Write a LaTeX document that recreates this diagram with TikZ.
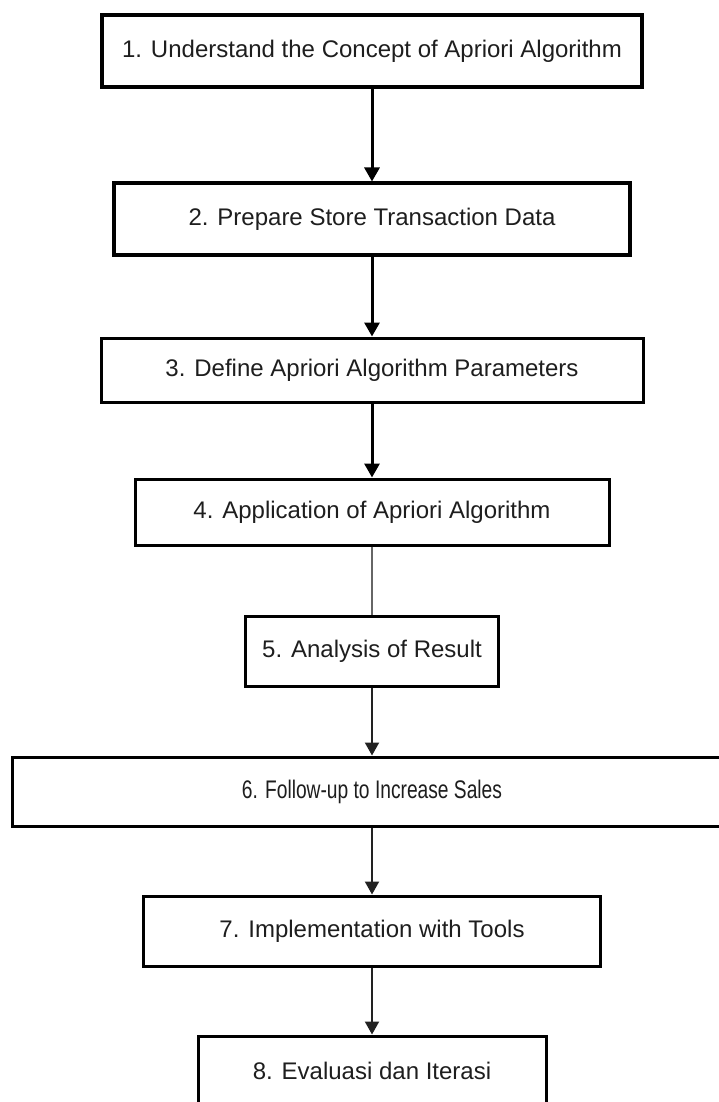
\documentclass[tikz,border=0pt]{standalone}
\usepackage{fontspec}
\usepackage{graphicx}
\setmainfont{Liberation Sans}
\usetikzlibrary{arrows.meta}
\definecolor{txtgray}{HTML}{1E1E1E}
\definecolor{linegray}{HTML}{666666}
\definecolor{darkline}{HTML}{222222}
\tikzset{
  stepbox/.style={draw, line width=3pt, minimum height=70pt, inner sep=0pt,
    text=txtgray, font=\fontsize{24}{28}\selectfont},
  flow/.style={-{Triangle[width=15pt,length=14pt]}, line width=3pt},
  thinflow/.style={-{Triangle[width=14pt,length=13pt]}, line width=2pt, darkline},
}

\begin{document}
\begin{tikzpicture}[x=1pt,y=-1pt]
  \fill[white] (0,0) rectangle (718,1102);
  \useasboundingbox (0,0) rectangle (718,1102);
  % steps
  \node[stepbox, line width=4pt, minimum width=540pt, minimum height=72pt] (s1) at (372,51) {1. Understand the Concept of Apriori Algorithm};
  \node[stepbox, line width=4pt, minimum width=516pt, minimum height=71pt] (s2) at (372,219) {2. Prepare Store Transaction Data};
  \node[stepbox, minimum width=542pt, minimum height=64pt] (s3) at (372,370) {3. Define Apriori Algorithm Parameters};
  \node[stepbox, minimum width=474pt, minimum height=66pt] (s4) at (372,512) {4. Application of Apriori Algorithm};
  \node[stepbox, minimum width=253pt] (s5) at (372,651) {5. Analysis of Result};
  \node[stepbox, minimum width=720pt, minimum height=69pt] (s6) at (372,791.5) {\scalebox{0.8}[1.06]{6. Follow-up to Increase Sales}};
  \node[stepbox, minimum width=457pt] (s7) at (372,931) {7. Implementation with Tools};
  \node[stepbox, minimum width=348pt] (s8) at (372,1071) {8. Evaluasi dan Iterasi};
  % connectors
  \draw[flow] (s1) -- (s2);
  \draw[flow] (s2) -- (s3);
  \draw[flow] (s3) -- (s4);
  \draw[linegray, line width=2pt] (s4) -- (s5);
  \draw[thinflow] (s5) -- (s6);
  \draw[thinflow] (s6) -- (s7);
  \draw[thinflow] (s7) -- (s8);
\end{tikzpicture}
\end{document}
